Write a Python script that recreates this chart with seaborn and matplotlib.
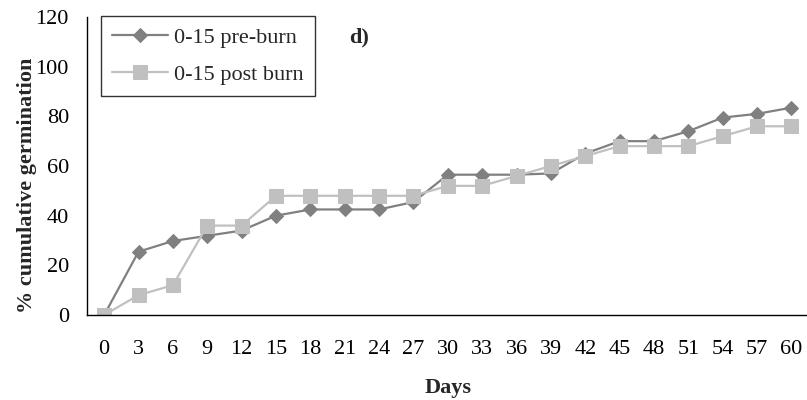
import matplotlib
matplotlib.use("Agg")
import matplotlib.pyplot as plt
import seaborn as sns

days = [0, 3, 6, 9, 12, 15, 18, 21, 24, 27, 30, 33, 36, 39, 42, 45, 48, 51, 54, 57, 60]
pre_burn = [0, 25.5, 29.8, 31.9, 34.0, 40.0, 42.5, 42.5, 42.5, 45.5, 56.5, 56.5, 56.5, 57.0,
            65.0, 70.0, 70.0, 74.0, 79.5, 81.0, 83.5]
post_burn = [0, 8, 12, 36, 36, 48, 48, 48, 48, 48, 52, 52, 56, 60, 64, 68, 68, 68, 72, 76, 76]
series_names = ["0-15 pre-burn", "0-15 post burn"]
y_ticks = [0, 20, 40, 60, 80, 100, 120]

sns.set_theme(style="white")
plt.rcParams['font.family'] = ['Liberation Serif', 'DejaVu Serif']

W, H = 807, 400
fig = plt.figure(figsize=(W / 100, H / 100), dpi=100)
ax = fig.add_axes([87 / W, 1 - 315 / H, 1 - 87 / W + 0.002, (315 - 17) / H])

sns.lineplot(x=days, y=pre_burn, ax=ax, color="#808080", marker="D", markersize=7,
             markeredgecolor="#808080", linewidth=1.6, label=series_names[0])
sns.lineplot(x=days, y=post_burn, ax=ax, color="#C0C0C0", marker="s", markersize=9.5,
             markeredgecolor="#C0C0C0", linewidth=1.6, label=series_names[1])

ax.set_xlim(days[0] - 1.5, days[-1] + 1.5)
ax.set_ylim(0, 120)
ax.set_yticks(y_ticks)
ax.set_yticklabels([str(v) for v in y_ticks], fontsize=16)
ax.set_xticks(days)
ax.set_xticklabels([str(d) for d in days], fontsize=16)
ax.set_xticks([d - 1.5 for d in days] + [days[-1] + 1.5], minor=True)
ax.tick_params(axis='x', which='major', length=0, pad=18)
ax.tick_params(axis='x', which='minor', length=5, width=1, color='black', direction='out')
ax.tick_params(axis='y', which='major', length=5, width=1, color='black', direction='out', pad=8)
ax.tick_params(colors='black')

for s in ["top", "right"]:
    ax.spines[s].set_visible(False)
for s in ["left", "bottom"]:
    ax.spines[s].set_color("black")
    ax.spines[s].set_linewidth(1)

ax.set_xlabel("Days", fontsize=16, fontweight="bold", labelpad=14)
ax.set_ylabel("% cumulative germination", fontsize=16, fontweight="bold")
ax.yaxis.set_label_coords((37 - 87) / 720, (315 - 185) / 298)

leg = ax.legend(loc="upper left", bbox_to_anchor=(101 / W, 1 - 16 / H),
                bbox_transform=fig.transFigure, borderaxespad=0,
                fontsize=16, frameon=True, fancybox=False, edgecolor="black",
                borderpad=0.5, handlelength=2.5, labelspacing=0.75, handletextpad=0.3)
leg.get_frame().set_linewidth(1)

fig.text(349 / W, 1 - 37 / H, "d)", fontsize=16, fontweight="bold", va="center", ha="left")

fig.savefig("out.png", dpi=100)
